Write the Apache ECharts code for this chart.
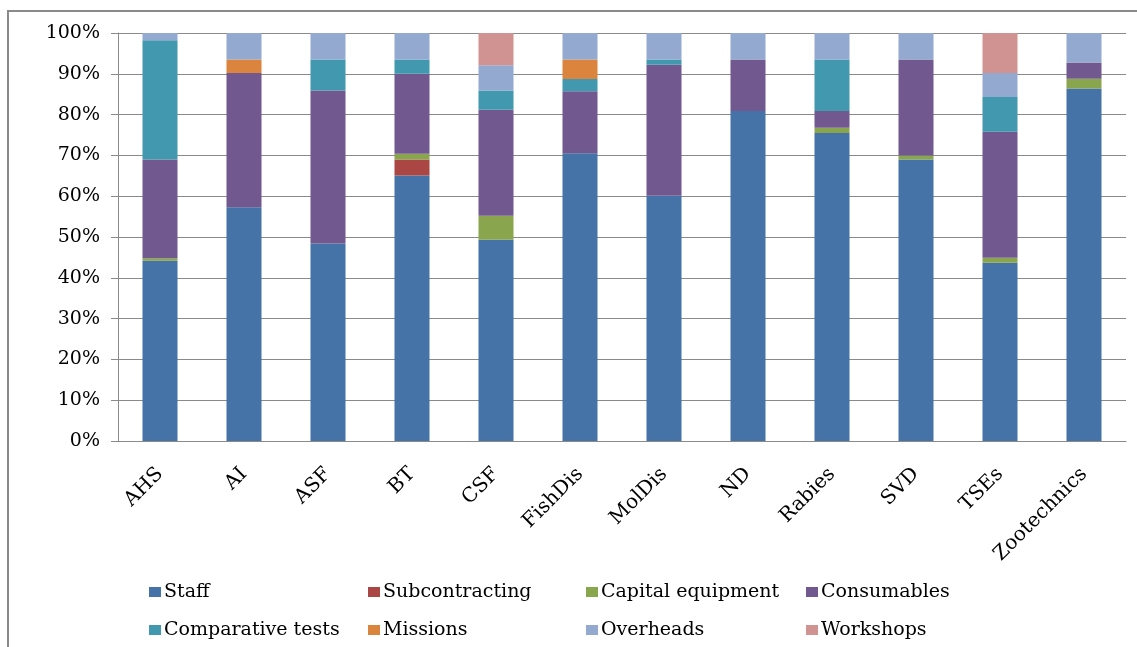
<!DOCTYPE html>
<html>
<head>
<meta charset="utf-8">
<script src="https://cdn.jsdelivr.net/npm/echarts@6/dist/echarts.min.js"></script>
<style>
html,body{margin:0;padding:0;background:#fff;}
#chart{width:1137px;height:647px;}
</style>
</head>
<body>
<div id="chart"></div>
<script>
var categories = ['AHS','AI','ASF','BT','CSF','FishDis','MolDis','ND','Rabies','SVD','TSEs','Zootechnics'];
var staff          = [44.2,57.3,48.4,65.1,49.3,70.5,60.1,80.9,75.5,69.0,43.7,86.4];
var subcontracting = [0,0,0,3.9,0,0,0,0,0,0,0,0];
var capital        = [0.6,0,0,1.4,5.9,0,0,0,1.3,1.0,1.2,2.4];
var consumables    = [24.2,32.9,37.5,19.6,26.0,15.2,32.1,12.6,4.1,23.5,30.9,4.0];
var comparative    = [29.2,0,7.6,3.5,4.7,3.0,1.3,0,12.6,0,8.5,0];
var missions       = [0,3.3,0,0,0,4.8,0,0,0,0,0,0];
var overheads      = [1.8,6.5,6.5,6.5,6.2,6.5,6.5,6.5,6.5,6.5,5.9,7.2];
var workshops      = [0,0,0,0,7.9,0,0,0,0,0,9.8,0];
var yTicks = [0,10,20,30,40,50,60,70,80,90,100];

var seriesNames = ['Staff','Subcontracting','Capital equipment','Consumables','Comparative tests','Missions','Overheads','Workshops'];
var seriesData = [staff,subcontracting,capital,consumables,comparative,missions,overheads,workshops];
var colors = ['#4572A7','#AA4643','#89A54E','#71588F','#4198AF','#DB843D','#93A9CF','#D19392'];

var font = 'DejaVu Serif';
var chart = echarts.init(document.getElementById('chart'));

function legendCol(names, left){
  return {
    orient:'vertical', left:left, top:582,
    data:names, itemWidth:12, itemHeight:10, itemGap:18,
    icon:'rect', selectedMode:false, padding:0,
    textStyle:{fontFamily:font,fontSize:19,color:'#000',lineHeight:20,padding:[0,0,0,-2]}
  };
}

chart.setOption({
  animation:false,
  color:colors,
  graphic:[{type:'rect',shape:{x:8,y:11,width:1140,height:650},style:{fill:'none',stroke:'#8a8a8a',lineWidth:2},silent:true}],
  grid:{left:118,right:11,top:33,bottom:206},
  legend:[
    legendCol(['Staff','Comparative tests'],149),
    legendCol(['Subcontracting','Missions'],368),
    legendCol(['Capital equipment','Overheads'],586),
    legendCol(['Consumables','Workshops'],806)
  ],
  xAxis:{
    type:'category', data:categories,
    axisLine:{lineStyle:{color:'#8a8a8a',width:1}},
    axisTick:{length:8,lineStyle:{color:'#8a8a8a'}},
    axisLabel:{rotate:45,margin:30,fontFamily:font,fontSize:20,color:'#000',interval:0}
  },
  yAxis:{
    type:'value', min:yTicks[0], max:yTicks[yTicks.length-1], interval:yTicks[1]-yTicks[0],
    axisLine:{show:true,lineStyle:{color:'#8a8a8a',width:1}},
    axisTick:{show:true,length:7,lineStyle:{color:'#8a8a8a'}},
    splitLine:{lineStyle:{color:'#8a8a8a',width:1}},
    axisLabel:{formatter:'{value}%',margin:18,fontFamily:font,fontSize:19,color:'#000'}
  },
  series:seriesNames.map(function(n,i){
    return {name:n,type:'bar',stack:'total',barWidth:35,data:seriesData[i],
      itemStyle:{color:colors[i]}};
  })
});
</script>
</body>
</html>
